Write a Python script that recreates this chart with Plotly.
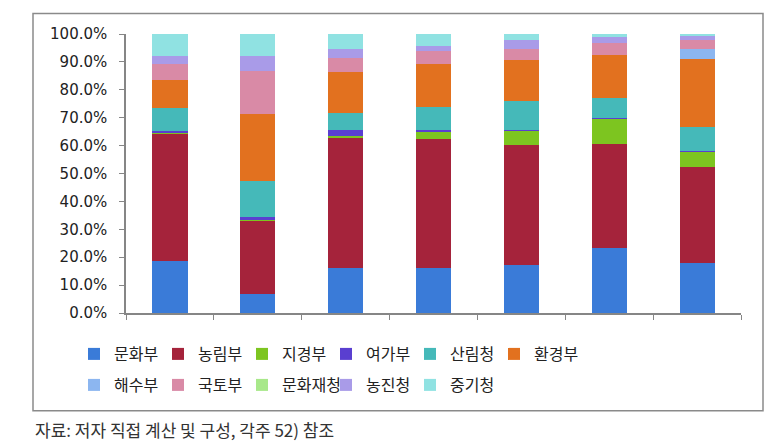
import plotly.graph_objects as go

categories = ["1", "2", "3", "4", "5", "6", "7"]

series_names = ["문화부", "농림부", "지경부", "여가부", "산림청", "환경부",
                "해수부", "국토부", "문화재청", "농진청", "중기청"]

munhwa   = [18.5, 6.8, 16.0, 16.2, 17.1, 23.2, 18.0]
nongrim  = [45.8, 26.3, 47.0, 46.2, 43.1, 37.3, 34.4]
jigyeong = [0.4, 0.3, 0.3, 2.4, 5.3, 9.3, 5.4]
yeoga    = [0.6, 1.1, 2.3, 0.8, 0.2, 0.1, 0.4]
sanrim   = [8.1, 12.8, 6.2, 8.1, 10.4, 7.0, 8.3]
hwangyeong = [10.2, 24.1, 14.6, 15.4, 14.5, 15.6, 24.5]
haesu    = [0.0, 0.0, 0.0, 0.0, 0.0, 0.0, 3.6]
gukto    = [5.6, 15.4, 4.9, 4.8, 4.1, 4.4, 3.1]
munhwajae = [0.0, 0.0, 0.0, 0.0, 0.0, 0.0, 0.0]
nongjin  = [2.9, 5.3, 3.4, 1.8, 3.3, 1.9, 1.7]
junggi   = [7.9, 7.9, 5.3, 4.3, 2.0, 1.2, 0.6]

values = [munhwa, nongrim, jigyeong, yeoga, sanrim, hwangyeong,
          haesu, gukto, munhwajae, nongjin, junggi]

colors = ["#3a7bd8", "#a5233b", "#7dc520", "#5a3fd0", "#45b9b9", "#e2711f",
          "#8cb6f0", "#d98aa6", "#a8e88a", "#a99be8", "#90e2e2"]

caption = "자료: 저자 직접 계산 및 구성, 각주 52) 참조"

fig = go.Figure()
for i, (name, vals, col) in enumerate(zip(series_names, values, colors)):
    fig.add_trace(go.Bar(
        x=categories, y=vals, name=name,
        marker=dict(color=col, line=dict(width=0)),
        legend="legend" if i < 6 else "legend2",
    ))

W, H = 781, 447
L, R, T, B = 126, 741, 33.5, 313
pw, ph = R - L, B - T

def px_x(x):
    return (x - L) / pw

def px_y(y):
    return (B - y) / ph

legend_font = dict(family="Noto Sans CJK KR", size=16, color="#222222")

fig.update_layout(
    width=W, height=H,
    margin=dict(l=L, r=W - R, t=T, b=H - B),
    paper_bgcolor="white", plot_bgcolor="white",
    barmode="stack", bargap=0.6,
    showlegend=True,
    legend=dict(orientation="h", xref="container", yref="container",
                x=74 / W, y=1 - 354 / H, xanchor="left", yanchor="middle",
                entrywidth=39, entrywidthmode="pixels", font=legend_font,
                traceorder="normal", bgcolor="rgba(0,0,0,0)"),
    legend2=dict(orientation="h", xref="container", yref="container",
                 x=74 / W, y=1 - 385 / H, xanchor="left", yanchor="middle",
                 entrywidth=39, entrywidthmode="pixels", font=legend_font,
                 traceorder="normal", bgcolor="rgba(0,0,0,0)"),
    xaxis=dict(showticklabels=False, showgrid=False, tickson="boundaries",
               ticks="outside", ticklen=5, tickcolor="#868686",
               showline=True, linecolor="#868686", linewidth=1.5, zeroline=False),
    yaxis=dict(range=[0, 100], dtick=10, tickformat=".1f", ticksuffix="%",
               showgrid=False, ticks="outside", ticklen=5, tickcolor="#868686",
               showline=True, linecolor="#868686", linewidth=1.5, zeroline=False,
               ticklabelstandoff=9,
               tickfont=dict(family="DejaVu Sans", size=15, color="#222222")),
    font=dict(family="Noto Sans CJK KR"),
    shapes=[
        dict(type="rect", xref="paper", yref="paper",
             x0=px_x(33), x1=px_x(763), y0=px_y(411), y1=px_y(13),
             line=dict(color="#8a8a8a", width=1.5), fillcolor="rgba(0,0,0,0)",
             layer="below"),
    ],
    annotations=[
        dict(text=caption, xref="paper", yref="paper",
             x=px_x(33), y=px_y(430), xanchor="left", yanchor="middle",
             showarrow=False,
             font=dict(family="Noto Sans CJK KR", size=17, color="#333333")),
    ],
)

fig.write_html("out.html")
